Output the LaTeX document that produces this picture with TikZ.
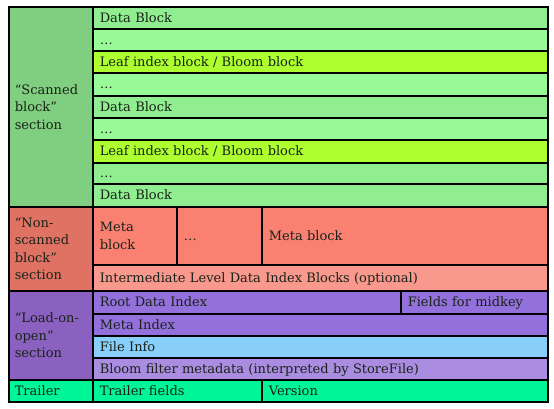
\documentclass[tikz,border=0pt]{standalone}
\usepackage{fontspec}
\setmainfont{DejaVu Serif}
\usetikzlibrary{positioning}

\definecolor{scanSec}{RGB}{128,206,128}
\definecolor{dataBlk}{RGB}{144,238,144}
\definecolor{dotsBlk}{RGB}{152,251,152}
\definecolor{leafBlk}{RGB}{173,255,47}
\definecolor{nonSec}{RGB}{224,114,100}
\definecolor{metaBlk}{RGB}{250,128,114}
\definecolor{interBlk}{RGB}{249,152,140}
\definecolor{loadSec}{RGB}{138,96,192}
\definecolor{rootBlk}{RGB}{147,112,219}
\definecolor{infoBlk}{RGB}{135,206,250}
\definecolor{bloomBlk}{RGB}{170,140,225}
\definecolor{trailBlk}{RGB}{0,245,150}
\definecolor{inkText}{RGB}{25,35,25}

\begin{document}
\begin{tikzpicture}[x=1pt, y=-1pt,
    % Define cell styles
    cell/.style={draw=black, line width=1.6pt, anchor=north west, inner ysep=0pt, align=left,
                 font=\fontsize{13}{17.5}\selectfont, text=inkText},
    sec/.style n args={2}{cell, fill=#1, text width=72pt, inner xsep=6pt, minimum height=#2},
    row/.style n args={3}{cell, fill=#1, text width={#2-14}, inner xsep=7pt, minimum height=#3,
                 text height=10pt, text depth=1pt},
    multi/.style n args={3}{cell, fill=#1, text width={#2-14}, inner xsep=7pt, minimum height=#3},
]
\useasboundingbox[fill=white] (0,0) rectangle (554,409);

% Scanned block section
\node[sec={scanSec}{200}] (Scanned) at (8,6) {``Scanned\\block''\\section};
\node[row={dataBlk}{455}{22}] (DataA) at (92,6) {Data Block};
\node[row={dotsBlk}{455}{22}] (DotsA) at (92,28) {\dots};
\node[row={leafBlk}{455}{22}] (LeafA) at (92,50) {Leaf index block / Bloom block};
\node[row={dotsBlk}{455}{23}] (DotsB) at (92,72) {\dots};
\node[row={dataBlk}{455}{22}] (DataB) at (92,95) {Data Block};
\node[row={dotsBlk}{455}{22}] (DotsC) at (92,117) {\dots};
\node[row={leafBlk}{455}{23}] (LeafB) at (92,139) {Leaf index block / Bloom block};
\node[row={dataBlk}{455}{21}] (DotsD) at (92,162) {\dots};
\node[row={dataBlk}{455}{23}] (DataC) at (92,183) {Data Block};

% Non-scanned block section
\node[sec={nonSec}{84}] (NonScanned) at (8,206) {``Non-\\scanned\\block''\\section};
\node[multi={metaBlk}{84}{58}] (MetaA) at (92,206) {Meta\\block};
\node[row={metaBlk}{85}{58}] (MetaDots) at (176,206) {\dots};
\node[row={metaBlk}{286}{58}] (MetaB) at (261,206) {Meta block};
\node[row={interBlk}{455}{26}] (Inter) at (92,264) {Intermediate Level Data Index Blocks (optional)};

% Load-on-open section
\node[sec={loadSec}{89}] (LoadOpen) at (8,290) {``Load-on-\\open''\\section};
\node[row={rootBlk}{308}{23}] (RootIdx) at (92,290) {Root Data Index};
\node[row={rootBlk}{147}{23}] (Midkey) at (400,290) {Fields for midkey};
\node[row={rootBlk}{455}{22}] (MetaIdx) at (92,313) {Meta Index};
\node[row={infoBlk}{455}{22}] (FileInfo) at (92,335) {File Info};
\node[row={bloomBlk}{455}{22}] (Bloom) at (92,357) {Bloom filter metadata (interpreted by StoreFile)};

% Trailer
\node[sec={trailBlk}{22}, text height=10pt, text depth=1pt] (Trailer) at (8,379) {Trailer};
\node[row={trailBlk}{169}{22}] (TrailerFields) at (92,379) {Trailer fields};
\node[row={trailBlk}{286}{22}] (Version) at (261,379) {Version};

\end{tikzpicture}
\end{document}
